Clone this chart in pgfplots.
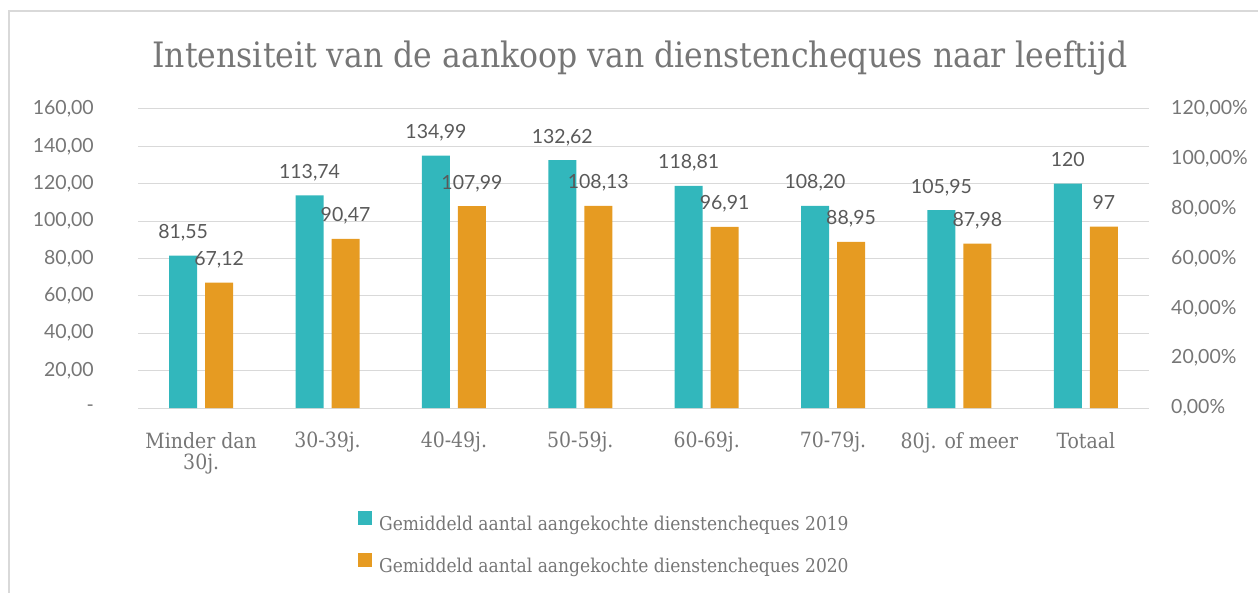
\documentclass[border=0pt]{standalone}
\usepackage{pgfplots}
\usepackage{pgfplotstable}
\pgfplotsset{compat=1.18}
\usepackage{fontspec}
\setmainfont{DejaVu Serif Condensed}
\newfontfamily\numfont{Lato}
\definecolor{tealA}{HTML}{32B7BC}
\definecolor{orangeB}{HTML}{E69B22}
\definecolor{lblgray}{HTML}{595959}
\definecolor{txtgray}{HTML}{767676}
\definecolor{gridgray}{HTML}{D9D9D9}

\pgfplotstableread{
x y lab
0 81.55 81,55
1 113.74 113,74
2 134.99 134,99
3 132.62 132,62
4 118.81 118,81
5 108.20 108,20
6 105.95 105,95
7 120 120
}\dataA

\pgfplotstableread{
x y lab
0 67.12 67,12
1 90.47 90,47
2 107.99 107,99
3 108.13 108,13
4 96.91 96,91
5 88.95 88,95
6 87.98 87,98
7 97 97
}\dataB

\begin{document}
\begin{tikzpicture}[x=1pt,y=1pt]
\useasboundingbox (0,0) rectangle (1258,592);
\draw[gridgray, line width=1.5pt] (9,-2) -- (9,581) -- (1260,581);
\node[text=txtgray, font=\fontsize{35}{40}\selectfont, inner sep=0pt] at (640,534) {Intensiteit van de aankoop van dienstencheques naar leeftijd};

\begin{axis}[
  at={(138pt,184pt)}, anchor=south west,
  scale only axis, width=1011pt, height=299pt,
  ymin=0, ymax=160, xmin=-0.5, xmax=7.5,
  ybar=8pt, bar width=28pt,
  axis line style={draw=none},
  major tick length=0pt,
  ymajorgrids, grid style={gridgray, line width=1pt},
  ytick={0,20,...,160},
  yticklabels={-,{20,00},{40,00},{60,00},{80,00},{100,00},{120,00},{140,00},{160,00}},
  yticklabel style={font=\numfont\fontsize{19.5}{22}\selectfont, text=txtgray, anchor=east, inner sep=0pt, xshift=-44pt},
  xtick={0,...,7},
  xticklabels={{Minder dan\\30j.},{30-39j.},{40-49j.},{50-59j.},{60-69j.},{70-79j.},{80j. of meer},{Totaal}},
  xticklabel style={font=\fontsize{21}{21}\selectfont, text=txtgray, align=center, anchor=north, inner sep=0pt, yshift=-24pt},
  point meta=explicit symbolic,
  nodes near coords,
  nodes near coords style={font=\numfont\fontsize{19.5}{22}\selectfont, text=lblgray, anchor=base, inner sep=0pt, yshift=17pt},
  legend style={at={(0.2176,-0.345)}, anchor=north west, draw=none, fill=none, inner sep=0pt,
    font=\fontsize{19}{22}\selectfont, text=txtgray,
    nodes={inner sep=0pt, text height=14pt, text depth=4pt},
    row sep=19pt,
    /tikz/every odd column/.append style={column sep=7pt}},
  legend cell align=left,
  legend image code/.code={\fill[#1, draw=none] (0pt,0pt) rectangle (14pt,14pt);},
]
\addplot[fill=tealA, draw=none] table[x=x, y=y, meta=lab] {\dataA};
\addlegendentry{Gemiddeld aantal aangekochte dienstencheques 2019}
\addplot[fill=orangeB, draw=none] table[x=x, y=y, meta=lab] {\dataB};
\addlegendentry{Gemiddeld aantal aangekochte dienstencheques 2020}
\end{axis}

\begin{axis}[
  at={(138pt,184pt)}, anchor=south west,
  scale only axis, width=1011pt, height=299pt,
  ymin=0, ymax=1.2, xmin=-0.5, xmax=7.5,
  axis y line*=right, axis x line=none,
  axis line style={draw=none},
  major tick length=0pt,
  ytick={0,0.2,0.4,0.6,0.8,1.0,1.2},
  yticklabels={{0,00\%},{20,00\%},{40,00\%},{60,00\%},{80,00\%},{100,00\%},{120,00\%}},
  yticklabel style={font=\numfont\fontsize{19.5}{22}\selectfont, text=txtgray, anchor=west, inner sep=0pt, xshift=22pt},
]
\addplot[draw=none] coordinates {(0,0)};
\end{axis}
\end{tikzpicture}
\end{document}
